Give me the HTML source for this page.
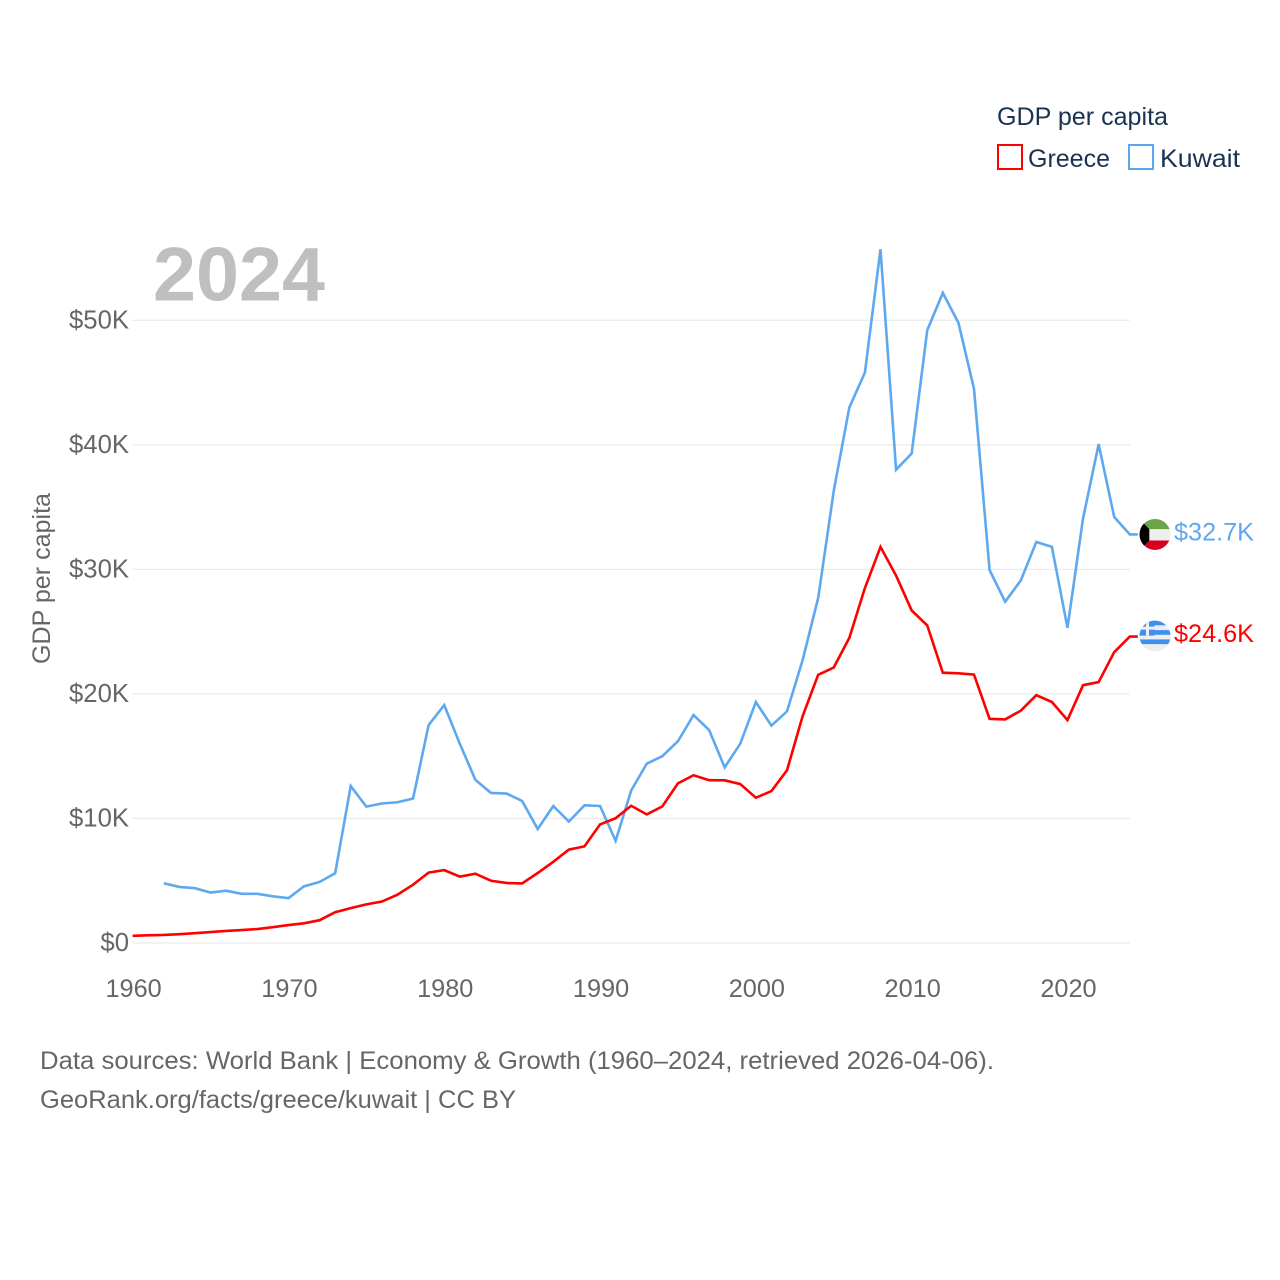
<!DOCTYPE html>
<html lang="en">
<head>
<meta charset="utf-8">
<title>GDP per capita: Greece and Kuwait</title>
<style>
html,body{margin:0;padding:0;background:#fff;width:1280px;height:1280px;overflow:hidden}
svg{display:block;font-family:"Liberation Sans",Arial,sans-serif}
</style>
</head>
<body>
<svg id="chart" width="1280" height="1280" viewBox="0 0 1280 1280" xmlns="http://www.w3.org/2000/svg">
  <defs>
    <clipPath id="flag-clip"><circle cx="0" cy="0" r="15.5"/></clipPath>
  </defs>
  <rect x="0" y="0" width="1280" height="1280" fill="#fff"/>

  <g id="grid"></g>
  <g id="y-ticks"></g>
  <g id="x-ticks"></g>

  <text x="153" y="300.5" font-size="76" font-weight="700" fill="#bfbfbf" textLength="172" lengthAdjust="spacingAndGlyphs">2024</text>

  <text transform="translate(50,578.5) rotate(-90)" text-anchor="middle" font-size="25" fill="#666" textLength="171" lengthAdjust="spacingAndGlyphs">GDP per capita</text>

  <path id="line-kuwait" fill="none" stroke="#5ea8ef" stroke-width="2.6" stroke-linejoin="miter"/>
  <path id="line-greece" fill="none" stroke="#ff0000" stroke-width="2.6" stroke-linejoin="miter"/>

  <g id="flag-kuwait">
    <g clip-path="url(#flag-clip)">
      <rect x="-16" y="-16" width="32" height="10.8" fill="#6ca548"/>
      <rect x="-16" y="-5.2" width="32" height="11.2" fill="#efefef"/>
      <rect x="-16" y="6" width="32" height="10" fill="#d9001f"/>
      <polygon points="-16,-16 -5.7,-5.2 -5.7,6 -16,16" fill="#000"/>
    </g>
  </g>
  <g id="flag-greece">
    <g clip-path="url(#flag-clip)">
      <rect x="-16" y="-16" width="32" height="32" fill="#eeeeee"/>
      <rect x="-16" y="-16" width="32" height="5.2" fill="#3d8ff2"/>
      <rect x="-16" y="-6" width="32" height="4.7" fill="#3d8ff2"/>
      <rect x="-16" y="3.3" width="32" height="4.7" fill="#3d8ff2"/>
      <rect x="-16" y="-16" width="15.5" height="15.5" fill="#3d8ff2"/>
      <rect x="-9" y="-16" width="3" height="15.5" fill="#eeeeee"/>
      <rect x="-16" y="-9.5" width="15.5" height="3" fill="#eeeeee"/>
    </g>
  </g>

  <text id="label-kuwait" x="1174" font-size="25" fill="#5ea8ef" textLength="80" lengthAdjust="spacingAndGlyphs"></text>
  <text id="label-greece" x="1174" font-size="25" fill="#ff0000" textLength="80" lengthAdjust="spacingAndGlyphs"></text>

  <g>
    <text x="997" y="125" font-size="25" fill="#1a3352" textLength="171" lengthAdjust="spacingAndGlyphs">GDP per capita</text>
    <g>
      <rect x="998" y="145" width="24" height="24" fill="#fff" stroke="#ff0000" stroke-width="2"/>
      <text x="1028" y="167" font-size="25" fill="#1a3352" textLength="82" lengthAdjust="spacingAndGlyphs">Greece</text>
    </g>
    <g>
      <rect x="1129" y="145" width="24" height="24" fill="#fff" stroke="#5ea8ef" stroke-width="2"/>
      <text x="1160" y="167" font-size="25" fill="#1a3352" textLength="80" lengthAdjust="spacingAndGlyphs">Kuwait</text>
    </g>
  </g>

  <text x="40" y="1069" font-size="25" fill="#666" textLength="954" lengthAdjust="spacingAndGlyphs">Data sources: World Bank | Economy &amp; Growth (1960–2024, retrieved 2026-04-06).</text>
  <text x="40" y="1108" font-size="25" fill="#666" textLength="476" lengthAdjust="spacingAndGlyphs">GeoRank.org/facts/greece/kuwait | CC BY</text>
</svg>
<script>
const firstYear = 1960;
const greeceValues = [0.58,0.62,0.65,0.71,0.79,0.88,0.97,1.04,1.12,1.27,1.44,1.58,1.83,2.47,2.8,3.1,3.33,3.88,4.68,5.65,5.85,5.33,5.56,5.0,4.82,4.78,5.62,6.52,7.5,7.76,9.52,10.02,11.02,10.32,10.97,12.82,13.47,13.07,13.06,12.76,11.66,12.2,13.87,18.2,21.53,22.12,24.5,28.5,31.8,29.5,26.7,25.5,21.7,21.65,21.55,18.0,17.95,18.65,19.9,19.35,17.9,20.7,20.95,23.35,24.6];
const kuwaitValues = [null,null,4.8,4.5,4.4,4.05,4.2,3.95,3.95,3.75,3.6,4.55,4.9,5.6,12.6,10.95,11.2,11.3,11.6,17.5,19.1,16.0,13.1,12.05,12.0,11.4,9.15,11.0,9.75,11.05,11.0,8.2,12.25,14.4,15.0,16.2,18.3,17.1,14.1,16.0,19.35,17.45,18.6,22.7,27.7,36.3,43.0,45.8,55.7,38.0,39.3,49.2,52.2,49.8,44.5,29.95,27.4,29.1,32.2,31.8,25.3,34.1,40.05,34.2,32.8];
const yTickValues = [0,10,20,30,40,50];
const yTickLabels = ["$0","$10K","$20K","$30K","$40K","$50K"];
const xTickYears = [1960,1970,1980,1990,2000,2010,2020];
const endLabels = ["$24.6K","$32.7K"];

const NS = 'http://www.w3.org/2000/svg';
const plotLeft = 132.6, plotRight = 1129.8, yZero = 943, pxPerK = 12.455;
function xScale(year){ return plotLeft + (year - 1960) * (plotRight - plotLeft) / 64; }
function yScale(v){ return yZero - v * pxPerK; }

function linePath(values){
  let d = '';
  let lastX = 0, lastY = 0;
  values.forEach(function(v, i){
    if (v === null) return;
    lastX = xScale(firstYear + i);
    lastY = yScale(v);
    d += (d ? 'L' : 'M') + lastX.toFixed(2) + ' ' + lastY.toFixed(2);
  });
  d += 'L' + (lastX + 8) + ' ' + lastY.toFixed(2);
  return d;
}

const gridGroup = document.getElementById('grid');
const yGroup = document.getElementById('y-ticks');
const xGroup = document.getElementById('x-ticks');

yTickValues.forEach(function(v, i){
  const g = document.createElementNS(NS, 'line');
  
  
  g.setAttribute('x1', plotLeft);
  g.setAttribute('x2', plotRight);
  g.setAttribute('y1', yScale(v));
  g.setAttribute('y2', yScale(v));
  g.setAttribute('stroke', '#ebebeb');
  g.setAttribute('stroke-width', '1.3');
  gridGroup.appendChild(g);

  const t = document.createElementNS(NS, 'text');
  
  
  t.setAttribute('x', 129);
  t.setAttribute('y', yScale(v) + 8);
  t.setAttribute('text-anchor', 'end');
  t.setAttribute('font-size', '25.7');
  t.setAttribute('fill', '#666');
  t.textContent = yTickLabels[i];
  yGroup.appendChild(t);
});

xTickYears.forEach(function(year){
  const t = document.createElementNS(NS, 'text');
  
  
  t.setAttribute('x', xScale(year) + 1);
  t.setAttribute('y', 997);
  t.setAttribute('text-anchor', 'middle');
  t.setAttribute('font-size', '25.3');
  t.setAttribute('fill', '#666');
  t.textContent = String(year);
  xGroup.appendChild(t);
});

document.getElementById('line-greece').setAttribute('d', linePath(greeceValues));
document.getElementById('line-kuwait').setAttribute('d', linePath(kuwaitValues));

const greeceEndY = yScale(greeceValues[greeceValues.length - 1]);
const kuwaitEndY = yScale(kuwaitValues[kuwaitValues.length - 1]);
document.getElementById('flag-greece').setAttribute('transform', 'translate(1155,' + (greeceEndY - 0.5) + ')');
document.getElementById('flag-kuwait').setAttribute('transform', 'translate(1155,' + kuwaitEndY + ')');
const greeceLabel = document.getElementById('label-greece');
greeceLabel.setAttribute('y', greeceEndY + 5.5);
greeceLabel.textContent = endLabels[0];
const kuwaitLabel = document.getElementById('label-kuwait');
kuwaitLabel.setAttribute('y', kuwaitEndY + 6);
kuwaitLabel.textContent = endLabels[1];
</script>
</body>
</html>
